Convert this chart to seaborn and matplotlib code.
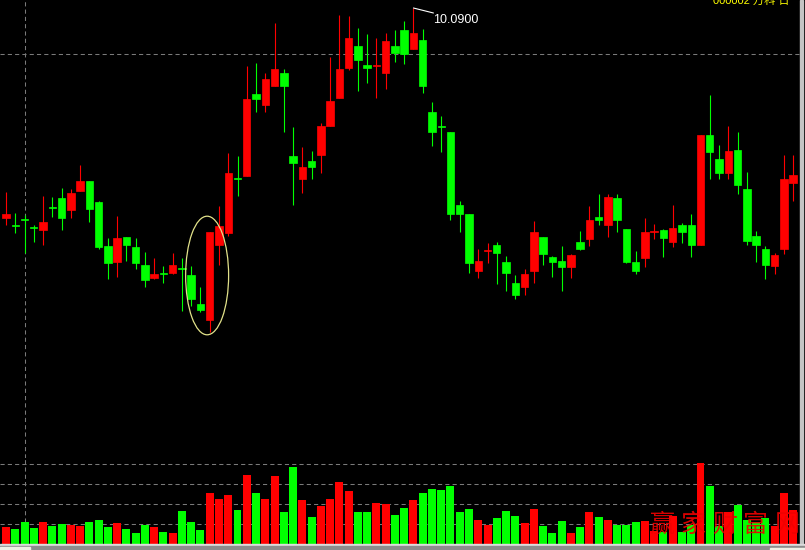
import numpy as np
import pandas as pd
import matplotlib
matplotlib.use("Agg")
import matplotlib.pyplot as plt
from matplotlib.patches import Ellipse, Rectangle
import seaborn as sns

# ---------------- data (daily OHLC, volume) ----------------
opens = [7.99, 7.92, 7.98, 7.90, 7.87, 8.10, 8.19, 8.07, 8.26, 8.36,
         8.15, 7.71, 7.55, 7.80, 7.70, 7.52, 7.39, 7.44, 7.44, 7.49,
         7.42, 7.13, 6.97, 7.72, 7.84, 8.39, 8.41, 9.23, 9.12, 9.31,
         9.44, 8.61, 8.38, 8.56, 8.62, 8.91, 9.19, 9.49, 9.71, 9.52,
         9.51, 9.44, 9.71, 9.87, 9.68, 9.77, 9.05, 8.91, 8.85, 8.12,
         8.03, 7.46, 7.66, 7.72, 7.55, 7.34, 7.30, 7.46, 7.80, 7.60,
         7.56, 7.50, 7.75, 7.78, 8.00, 7.92, 8.19, 7.88, 7.55, 7.59,
         7.85, 7.87, 7.75, 7.92, 7.92, 7.72, 8.82, 8.58, 8.44, 8.67,
         8.28, 7.81, 7.68, 7.51, 7.68, 8.34]
highs = [8.25, 8.04, 8.02, 7.92, 8.21, 8.20, 8.29, 8.28, 8.52, 8.36,
         8.16, 7.79, 8.01, 7.80, 7.79, 7.65, 7.59, 7.51, 7.64, 7.59,
         7.51, 7.30, 7.85, 8.11, 8.64, 8.61, 9.51, 9.54, 9.44, 9.94,
         9.48, 8.90, 8.70, 8.66, 8.94, 9.60, 10.02, 10.01, 9.89, 9.83,
         9.79, 9.84, 9.87, 9.96, 10.09, 9.88, 9.15, 9.01, 8.85, 8.16,
         8.03, 7.68, 7.74, 7.75, 7.61, 7.42, 7.48, 7.96, 7.80, 7.61,
         7.71, 7.63, 7.86, 8.11, 8.23, 8.23, 8.23, 7.88, 7.66, 7.99,
         7.93, 7.88, 8.12, 7.94, 8.03, 8.82, 9.22, 8.72, 8.91, 8.85,
         8.45, 7.86, 7.71, 7.64, 8.62, 8.62]
lows = [7.92, 7.84, 7.64, 7.75, 7.72, 8.00, 7.87, 7.99, 8.26, 7.95,
        7.68, 7.38, 7.40, 7.56, 7.48, 7.30, 7.38, 7.34, 7.43, 7.06,
        7.11, 7.05, 6.85, 7.52, 7.81, 8.21, 8.41, 9.05, 9.05, 9.31,
        8.85, 8.12, 8.24, 8.38, 8.44, 8.91, 9.19, 9.47, 9.26, 9.34,
        9.19, 9.28, 9.55, 9.53, 9.68, 9.24, 8.71, 8.65, 7.97, 7.85,
        7.44, 7.39, 7.54, 7.33, 7.26, 7.18, 7.22, 7.34, 7.52, 7.40,
        7.26, 7.39, 7.67, 7.71, 7.92, 7.80, 7.85, 7.54, 7.43, 7.50,
        7.78, 7.60, 7.70, 7.74, 7.60, 7.72, 8.38, 8.38, 8.38, 8.23,
        7.72, 7.55, 7.38, 7.43, 7.63, 8.16]
closes = [8.03, 7.91, 7.97, 7.89, 7.95, 8.09, 7.99, 8.24, 8.36, 8.08,
          7.70, 7.54, 7.79, 7.72, 7.54, 7.37, 7.43, 7.43, 7.52, 7.48,
          7.18, 7.07, 7.85, 7.91, 8.44, 8.38, 9.18, 9.18, 9.38, 9.48,
          9.31, 8.54, 8.50, 8.50, 8.91, 9.16, 9.48, 9.79, 9.57, 9.49,
          9.52, 9.76, 9.64, 9.63, 9.84, 9.31, 8.85, 8.90, 8.03, 8.03,
          7.54, 7.56, 7.67, 7.64, 7.44, 7.22, 7.43, 7.85, 7.63, 7.55,
          7.50, 7.62, 7.68, 7.97, 7.97, 8.20, 7.97, 7.55, 7.46, 7.85,
          7.86, 7.79, 7.89, 7.85, 7.72, 8.82, 8.65, 8.44, 8.66, 8.32,
          7.76, 7.72, 7.52, 7.62, 8.38, 8.42]
volumes = [17000, 15000, 22000, 16000, 22000, 18000, 20000, 19000, 18000, 22000,
           24000, 17000, 21000, 15000, 11000, 19000, 17000, 12000, 11000, 33000,
           22000, 14000, 51000, 45000, 49000, 34000, 69000, 51000, 45000, 68000,
           32000, 77000, 44000, 27000, 38000, 45000, 62000, 53000, 32000, 32000,
           41000, 40000, 29000, 36000, 44000, 51000, 55000, 54000, 58000, 32000,
           35000, 24000, 19000, 26000, 33000, 28000, 21000, 35000, 18000, 11000,
           23000, 11000, 17000, 32000, 27000, 24000, 19000, 19000, 22000, 23000,
           13000, 12000, 28000, 12000, 19000, 81000, 58000, 18000, 32000, 39000,
           24000, 22000, 26000, 18000, 51000, 34000]
high_label = "10.0900"
title_text = "000002 万科 日"
watermark = "赢家财富网"

# ---------------- style ----------------
sns.set_style("dark", rc={"axes.facecolor": "black", "figure.facecolor": "black",
                          "axes.edgecolor": "black", "grid.color": "black"})
plt.rcParams["font.family"] = ["DejaVu Sans", "Noto Sans CJK SC"]

UP, DOWN = "#FF0000", "#00FF00"
GRID = "#7A7A7A"
W, H = 805, 550

df = pd.DataFrame({"i": np.arange(len(opens)), "o": opens, "h": highs,
                   "l": lows, "c": closes, "v": volumes})
df["dir"] = np.where(df["c"] >= df["o"], "up", "down")
pal = {"up": UP, "down": DOWN}
cols = df["dir"].map(pal).tolist()

fig = plt.figure(figsize=(W / 100, H / 100), dpi=100)
ax = fig.add_axes([0, (H - 458) / H, 800 / W, 458 / H])
axv = fig.add_axes([0, (H - 544) / H, 800 / W, 88 / H])

xmin = -6 / 9.26
xmax = xmin + 800 / 9.26

# ---------------- price panel ----------------
ax.axhline(9.63, color=GRID, lw=0.75, ls=(0, (4, 3)), zorder=1)
ax.axvline(2, color=GRID, lw=0.75, ls=(0, (4, 3)), zorder=1)
ax.vlines(df["i"], df["l"], df["h"], colors=cols, lw=0.8, zorder=2)
ax.bar(df["i"], (df["c"] - df["o"]).abs(), bottom=np.minimum(df["o"], df["c"]),
       width=0.8, color=cols, edgecolor=cols, linewidth=0.5, zorder=3)

ax.add_patch(Ellipse((21.72, 7.415), width=4.64, height=1.186, fill=False,
                     edgecolor="#E2E28A", lw=0.9, zorder=4))

imax = int(np.argmax(highs))
ax.annotate("", xy=(imax, highs[imax]), xytext=(20, -5), textcoords="offset pixels",
            arrowprops=dict(arrowstyle="-", color="white", lw=0.8, shrinkA=0, shrinkB=0))
ax.annotate(high_label, xy=(imax, highs[imax]), xytext=(20, -12), textcoords="offset pixels",
            color="white", fontsize=9, family="Liberation Sans", ha="left", va="center")

ax.set_xlim(xmin, xmax)
ax.set_ylim(10.17 - 4.58, 10.17)
ax.set_axis_off()

# ---------------- volume panel ----------------
for yv in (20000, 40000, 60000, 80500):
    axv.axhline(yv, color=GRID, lw=0.75, ls=(0, (4, 3)), zorder=0)
sns.barplot(data=df, x="i", y="v", hue="dir", palette=pal, dodge=False, width=0.86,
            saturation=1, errorbar=None, legend=False, linewidth=0, ax=axv, zorder=2)
axv.axvline(2, color=GRID, lw=0.75, ls=(0, (4, 3)), zorder=1)
axv.set_xlim(xmin, xmax)
axv.set_ylim(0, 88000)
axv.set_axis_off()

# ---------------- frame decorations ----------------
fig.patches.append(Rectangle((800 / W, 6 / H), 3 / W, 544 / H, transform=fig.transFigure,
                             color="#C4C4C4", zorder=5))
fig.patches.append(Rectangle((0, 4 / H), 1, 2 / H, transform=fig.transFigure,
                             color="#DCDCDC", zorder=5))
fig.patches.append(Rectangle((0, 0), 1, 4 / H, transform=fig.transFigure,
                             color="#8C8C8C", zorder=5))
fig.patches.append(Rectangle((0, 0), 30 / W, 3 / H, transform=fig.transFigure,
                             color="#F0F0E6", zorder=6))
fig.patches.append(Rectangle((770 / W, 0), 35 / W, 2 / H, transform=fig.transFigure,
                             color="#F0F0E6", zorder=6))

fig.text(713 / W, 1 - 3.5 / H, title_text, color="#FFFF00", fontsize=8,
         family=["Liberation Sans", "Noto Sans CJK SC"], ha="left", va="baseline")

# handwritten-style red watermark, one glyph at a time with wide spacing
for k, ch in enumerate(watermark):
    fig.text((662 + 31.2 * k) / W, 1 - 525 / H, ch, fontsize=18,
             family="Noto Sans CJK SC", fontweight="light", color="#F00000",
             alpha=0.9, ha="center", va="center", zorder=10)

fig.savefig("out.png", dpi=100, facecolor="black")
